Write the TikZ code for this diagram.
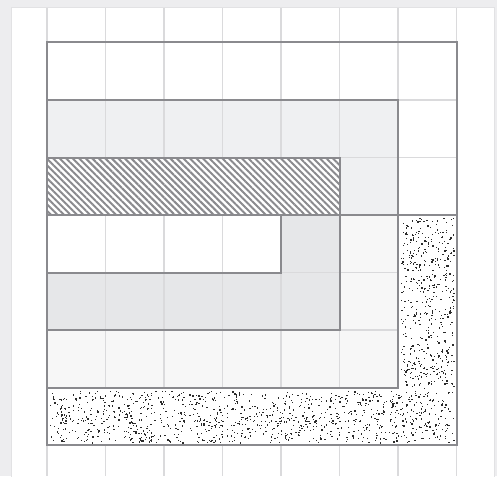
\documentclass[tikz,border=0pt]{standalone}
\usetikzlibrary{patterns.meta}
\definecolor{outerbg}{HTML}{EDEDEF}
\definecolor{paneledge}{HTML}{E2E2E4}
\definecolor{gridc}{HTML}{DADADC}
\definecolor{edgec}{HTML}{8A8A8E}
\definecolor{fillA}{HTML}{EFF0F2}
\definecolor{fillB}{HTML}{F7F7F7}
\definecolor{fillC}{HTML}{E6E7E9}
\definecolor{dotc}{HTML}{2A2A2A}
\tikzset{
  gridline/.style={draw=gridc, line width=1.2},
  edge/.style={draw=edgec, line width=2, line join=miter},
  hatchfill/.style={pattern={Lines[angle=-45, distance=4.6pt, line width=2pt]}, pattern color=edgec},
}
\begin{document}
\begin{tikzpicture}[x=1pt,y=-1pt]
\useasboundingbox (0,0) rectangle (497,476);
% background and panel
\fill[outerbg] (0,0) rectangle (497,476);
\filldraw[fill=white, draw=paneledge, line width=1.5] (11.5,7.5) rectangle (494.5,480);
% fills of the spiral
\fill[white] (47,42) rectangle (456.5,445);
\fill[fillB] (47,100) rectangle (398,387.5);
\fill[fillA] (47,100) rectangle (398,215);
\fill[fillC] (47,157.5) rectangle (339.5,330);
\fill[white] (47,157.5) rectangle (339.5,215);
\fill[white] (47,215) rectangle (281,272.5);
% grid
\foreach \gx in {47,105.5,164,222.5,281,339.5,398,456.5}
  \draw[gridline] (\gx,8.5) -- (\gx,476);
\foreach \gy in {42,100,157.5,215,272.5,330,387.5,445}
  \draw[gridline] (47,\gy) -- (456.5,\gy);
% stipple region: white over the grid, then dots
\fill[white] (48,388.5) -- (455.5,388.5) -- (455.5,444) -- (48,444) -- cycle;
\fill[white] (399,216) rectangle (455.5,388.5);
\pgfmathsetseed{4217}
\foreach \i in {1,...,1100} {
  \fill[dotc] ({49.5+404*rnd},{390.5+52*rnd}) rectangle +(1.25,1.25);
}
\foreach \i in {1,...,480} {
  \fill[dotc] ({400.5+53*rnd},{217.5+171*rnd}) rectangle +(1.25,1.25);
}
% hatched band
\fill[white] (47,157.5) rectangle (339.5,215);
\fill[hatchfill] (47,157.5) rectangle (339.5,215);
% outlines
\draw[edge] (47,42) rectangle (456.5,445);
\draw[edge] (47,215) -- (456.5,215);
\draw[edge] (47,100) rectangle (398,387.5);
\draw[edge] (47,157.5) rectangle (339.5,330);
\draw[edge] (47,157.5) rectangle (339.5,215);
\draw[edge] (47,215) rectangle (281,272.5);
\end{tikzpicture}
\end{document}
